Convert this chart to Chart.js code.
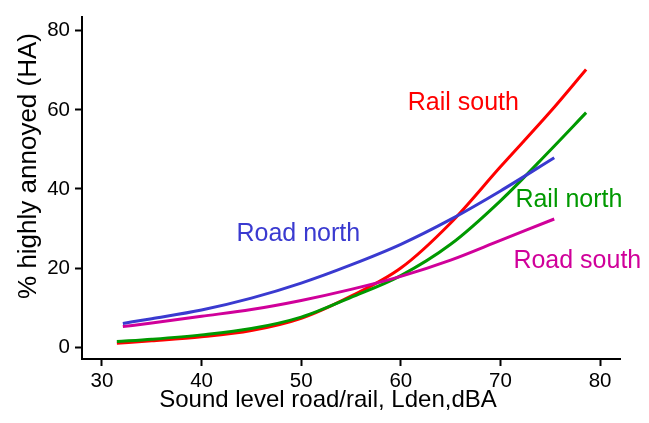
<!DOCTYPE html>
<html>
<head>
<meta charset="utf-8">
<title>Highly annoyed vs sound level</title>
<script src="https://cdn.jsdelivr.net/npm/chart.js@4/dist/chart.umd.min.js"></script>
<style>
  body { margin: 0; background: #fff; }
</style>
</head>
<body>
<canvas id="chart" width="649" height="423"></canvas>
<script>
// sound level (Lden, dBA) at which each curve is read
const railLevels = [31.5, 35, 40, 45, 50, 55, 60, 65, 70, 75, 78.6];
const roadLevels = [32.1, 35, 40, 45, 50, 55, 60, 65, 70, 75.4];

// % highly annoyed
const railSouth = [1.0, 1.6, 2.6, 4.2, 7.3, 12.9, 20.0, 31.4, 45.6, 59.5, 70.2];
const railNorth = [1.4, 2.0, 3.1, 4.7, 7.6, 12.6, 18.1, 26.0, 37.0, 49.8, 59.3];
const roadNorth = [6.0, 7.2, 9.4, 12.4, 16.2, 20.8, 26.0, 32.3, 39.5, 47.9];
const roadSouth = [5.2, 6.1, 7.8, 9.5, 11.8, 14.6, 17.9, 22.0, 27.0, 32.4];

const xTicks = [30, 40, 50, 60, 70, 80];
const yTicks = [0, 20, 40, 60, 80];

const xTitle = 'Sound level road/rail, Lden,dBA';
const yTitle = '% highly annoyed (HA)';

const FONT = "'Liberation Sans', Arial, Helvetica, sans-serif";

const colors = {
  railSouth: '#ff0000',
  railNorth: '#009900',
  roadNorth: '#3a3ad0',
  roadSouth: '#d0009a'
};

const toPoints = (xs, ys) => xs.map((x, i) => ({ x: x, y: ys[i] }));

const line = (label, xs, ys, color) => ({
  label: label,
  data: toPoints(xs, ys),
  borderColor: color,
  backgroundColor: color,
  borderWidth: 3,
  pointRadius: 0,
  cubicInterpolationMode: 'monotone',
  fill: false
});

// curve names written inside the plot, placed in data units
const curveNames = [
  { text: 'Rail south', x: 60.7, y: 61.7, color: colors.railSouth },
  { text: 'Road north', x: 43.5, y: 28.5, color: colors.roadNorth },
  { text: 'Rail north', x: 71.5, y: 37.2, color: colors.railNorth },
  { text: 'Road south', x: 71.3, y: 21.8, color: colors.roadSouth }
];

// names and axis titles; the titles sit off-centre in the original, so draw them here
const textPlugin = {
  id: 'chartText',
  afterDatasetsDraw(chart) {
    const ctx = chart.ctx;
    const xs = chart.scales.x;
    const ys = chart.scales.y;
    ctx.save();
    ctx.font = '25px ' + FONT;
    ctx.textAlign = 'left';
    ctx.textBaseline = 'middle';
    curveNames.forEach(n => {
      ctx.fillStyle = n.color;
      ctx.fillText(n.text, xs.getPixelForValue(n.x), ys.getPixelForValue(n.y));
    });

    ctx.fillStyle = '#000';
    ctx.textAlign = 'center';
    ctx.textBaseline = 'alphabetic';
    ctx.font = '24px ' + FONT;
    ctx.fillText(xTitle, 328, 407);

    ctx.font = '26px ' + FONT;
    ctx.translate(36, 166);
    ctx.rotate(-Math.PI / 2);
    ctx.fillText(yTitle, 0, 0);
    ctx.restore();
  }
};

const config = {
  type: 'line',
  data: {
    datasets: [
      line('Road north', roadLevels, roadNorth, colors.roadNorth),
      line('Road south', roadLevels, roadSouth, colors.roadSouth),
      line('Rail north', railLevels, railNorth, colors.railNorth),
      line('Rail south', railLevels, railSouth, colors.railSouth)
    ]
  },
  options: {
    responsive: false,
    animation: false,
    devicePixelRatio: 1,
    layout: { padding: { top: 5, right: 29, bottom: 0, left: 0 } },
    plugins: {
      legend: { display: false },
      tooltip: { enabled: false }
    },
    scales: {
      x: {
        type: 'linear',
        min: 28,
        max: 82,
        afterBuildTicks: s => { s.ticks = xTicks.map(v => ({ value: v })); },
        afterFit: s => { s.height = 64; },
        grid: { drawOnChartArea: false, drawTicks: true, tickLength: 7, tickWidth: 2, color: '#000' },
        border: { color: '#000', width: 2 },
        ticks: { color: '#000', font: { family: FONT, size: 20.5 }, padding: 3, maxRotation: 0 }
      },
      y: {
        type: 'linear',
        min: -3,
        max: 83.4,
        afterBuildTicks: s => { s.ticks = yTicks.map(v => ({ value: v })); },
        afterFit: s => { s.width = 82; },
        grid: { drawOnChartArea: false, drawTicks: true, tickLength: 7, tickWidth: 2, color: '#000' },
        border: { color: '#000', width: 2 },
        ticks: { color: '#000', font: { family: FONT, size: 20.5 }, padding: 5 }
      }
    }
  },
  plugins: [textPlugin]
};

new Chart(document.getElementById('chart').getContext('2d'), config);
</script>
</body>
</html>
